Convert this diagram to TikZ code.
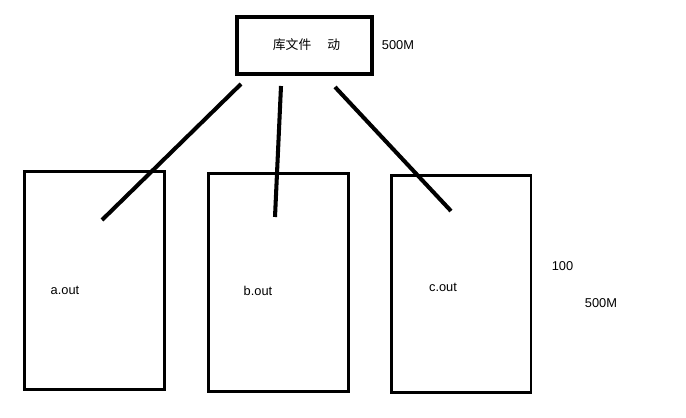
\documentclass[tikz,border=0pt]{standalone}
\usepackage{fontspec}
\setmainfont{Liberation Sans}
\newfontfamily\cjkfont{Noto Sans CJK SC}
\usepackage{tikz}
\usetikzlibrary{positioning}

\begin{document}
\begin{tikzpicture}
    [
      x=0.02cm,
      y=-0.02cm,
      lib/.style={rectangle,draw=black,line width=2.3pt,outer sep=0pt,
        minimum width=2.7cm,minimum height=1.14cm},
      prog/.style={rectangle,draw=black,line width=1.7pt,outer sep=0pt,
        minimum width=2.8cm,minimum height=4.36cm},
      lbl/.style={inner sep=0pt,font=\fontsize{7.3}{8}\selectfont},
      link/.style={line width=2.3pt},
    ]
    \useasboundingbox (0,0) rectangle (686,418);

    \node at (304.5, 45.5) [lib] (lib) {};
    \node at (94.5, 280.5) [prog] (pa) {};
    \node at (278.5, 282.5) [prog] (pb) {};
    \node at (461, 284) [prog] (pc) {};

    \node at (306.5, 45) [lbl] (libname) {\cjkfont 库文件\hspace{0.32cm}动};
    \node at (398, 45) [lbl] (libsize) {500M};
    \node at (65, 290) [lbl] (aout) {a.out};
    \node at (258, 291) [lbl] (bout) {b.out};
    \node at (443, 287) [lbl] (cout) {c.out};
    \node at (562.5, 266) [lbl] (count) {100};
    \node at (601, 303) [lbl] (total) {500M};

    \draw [link] ([shift={(-63.5,10)}]lib.south) -- ([shift={(7.5,-60.5)}]pa.center);
    \draw [link] ([shift={(-23.5,12)}]lib.south) -- ([shift={(-3.5,-65.5)}]pb.center);
    \draw [link] ([shift={(30.5,13)}]lib.south) -- ([shift={(-10,-73)}]pc.center);
  \end{tikzpicture}
\end{document}
